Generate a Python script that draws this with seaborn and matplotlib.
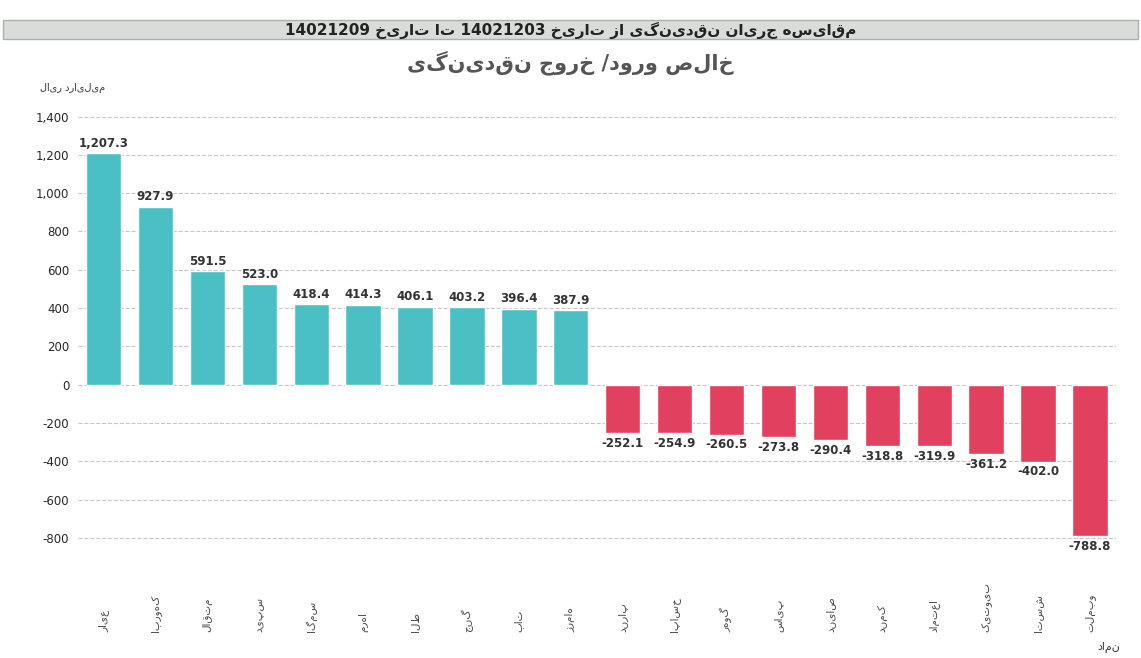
import matplotlib
matplotlib.use("Agg")
import matplotlib.pyplot as plt
import seaborn as sns
import pandas as pd

symbols = ["عیار", "کهوربا", "متقال", "سپید", "سمگا", "اهرم", "طلا", "گنج", "تاب", "هامرز",
           "پارند", "خساپا", "گوهر", "پیاس", "صایند", "کمند", "اعتماد", "بیوتیک", "شستا", "وبملت"]
values = [1207.3, 927.9, 591.5, 523.0, 418.4, 414.3, 406.1, 403.2, 396.4, 387.9,
          -252.1, -254.9, -260.5, -273.8, -290.4, -318.8, -319.9, -361.2, -402.0, -788.8]

def rtl(s):
    # matplotlib has no bidi: reverse word order, reverse letters of persian words only
    out = []
    for w in s.split(" ")[::-1]:
        out.append(w if w.isdigit() else w[::-1])
    return " ".join(out)

df = pd.DataFrame({"sym": [rtl(s) for s in symbols], "val": values})
colors = ["#4bc0c4" if v > 0 else "#e2405f" for v in values]

sns.set_style("white")
plt.rcParams["font.family"] = ["DejaVu Sans"]

fig = plt.figure(figsize=(11.41, 6.58), dpi=100)
fig.patch.set_facecolor("white")
# header bar
fig.patches.append(plt.Rectangle((0.003, 0.94), 0.994, 0.03, transform=fig.transFigure,
                                 facecolor="#d9dcd9", edgecolor="#a9b3ad", lw=1))
fig.text(0.5, 0.954, rtl("مقایسه جریان نقدینگی از تاریخ 14021203 تا تاریخ 14021209"),
         ha="center", va="center", fontsize=11, fontweight="bold", color="#222")
fig.text(0.50, 0.905, rtl("خالص ورود/ خروج نقدینگی"), ha="center", va="center",
         fontsize=15, fontweight="bold", color="#555")

ax = fig.add_axes([0.068, 0.1535, 0.91, 0.684])
sns.barplot(data=df, x="sym", y="val", hue="sym", palette=colors, legend=False,
            width=0.68, ax=ax, saturation=1)
ax.set_ylim(-900, 1450)
ax.set_yticks(range(-800, 1401, 200))
ax.set_yticklabels([f"{t:,}" for t in range(-800, 1401, 200)], fontsize=8.5)
ax.yaxis.grid(True, ls="--", color="#c8c8c8", lw=0.8)
ax.set_axisbelow(True)
for s in ["top", "right", "bottom", "left"]:
    ax.spines[s].set_visible(False)
ax.set_xlabel("")
ax.set_ylabel("")
ax.tick_params(axis="x", length=0, pad=54)
ax.tick_params(axis="y", length=0, pad=6)
for lbl in ax.get_xticklabels():
    lbl.set_rotation(90)
    lbl.set_fontsize(7.5)
    lbl.set_color("#444")
    lbl.set_verticalalignment("bottom")
for i, v in enumerate(values):
    ax.text(i, v + (20 if v > 0 else -20), f"{v:,.1f}", ha="center",
            va="bottom" if v > 0 else "top", fontsize=8.5, fontweight="bold", color="#333")
ax.set_xlim(-0.5, len(values) - 0.5)

fig.text(0.035, 0.862, rtl("میلیارد ریال"), fontsize=7, color="#333")
fig.text(0.962, 0.012, rtl("نماد"), fontsize=8, color="#333")
fig.savefig("out.png", dpi=100)
